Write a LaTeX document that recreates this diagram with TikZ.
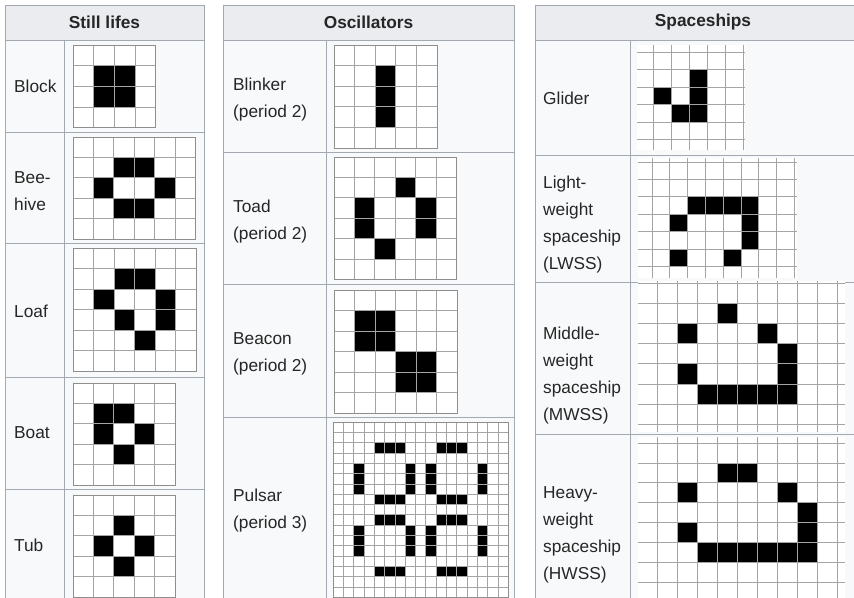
\documentclass[tikz,border=0pt]{standalone}
\usepackage{fontspec}
\setmainfont{Liberation Sans}
\definecolor{hdrc}{HTML}{EAECF0}
\definecolor{bodyc}{HTML}{F8F9FA}
\definecolor{bordc}{HTML}{A2A9B1}
\definecolor{gridc}{HTML}{A4A4A4}
\definecolor{gridb}{HTML}{8E8E8E}
\def\glw{0.8pt}
\newcommand\lifegrid[6]{%
 \begin{scope}[shift={(#1,#2)}]
  \fill[white] (0,0) rectangle ({#3*#5},{#4*#5});
  \foreach \c/\r in {#6} {\fill[black] ({\c*#5},{\r*#5}) rectangle ++(#5,#5);}
  \foreach \i in {0,...,#3} {\draw[gridln] ({\i*#5},0) -- ({\i*#5},{#4*#5});}
  \foreach \j in {0,...,#4} {\draw[gridln] (0,{\j*#5}) -- ({#3*#5},{\j*#5});}
  \draw[gridbd] (0,0) rectangle ({#3*#5},{#4*#5});
 \end{scope}}
\def\eL{16}\def\eR{2}\def\eT{6}\def\eB{8}
\newcommand\opengrid[7]{%
 \begin{scope}[shift={(#1,#2)}]
  \fill[white] (-\eL,-\eT) rectangle ({#3*#5+\eR},{#4*#6+\eB});
  \foreach \c/\r in {#7} {\fill[black] ({\c*#5},{\r*#6}) rectangle ++(#5,#6);}
  \foreach \i in {0,...,#3} {\draw[gridln] ({\i*#5},-\eT) -- ({\i*#5},{#4*#6+\eB});}
  \foreach \j in {0,...,#4} {\draw[gridln] (-\eL,{\j*#6}) -- ({#3*#5+\eR},{\j*#6});}
 \end{scope}}
\begin{document}
\begin{tikzpicture}[x=1pt,y=-1pt,
  tline/.style={draw=bordc,line width=1pt},
  gridln/.style={draw=gridc,line width=\glw},
  gridbd/.style={draw=gridb,line width=0.9pt},
  lbl/.style={anchor=west,align=left,inner sep=0pt,font=\fontsize{17.3}{27}\selectfont,text=black!85},
  hdr/.style={inner sep=0pt,font=\fontsize{17.3}{21}\selectfont\bfseries,text=black!85}]
\useasboundingbox (0,0) rectangle (854,597);
\clip (0,0) rectangle (854,597);
\fill[white] (0,0) rectangle (854,597);

% ---------- tables ----------
% still lifes
\fill[bodyc] (5,5) rectangle (204,620);
\fill[hdrc] (5,5) rectangle (204,40);
\draw[tline] (5,5) rectangle (204,620);
\foreach \y in {40,132,243,377,489} \draw[tline] (5,\y) -- (204,\y);
\draw[tline] (64,40) -- (64,620);
% oscillators
\fill[bodyc] (223,5) rectangle (514,620);
\fill[hdrc] (223,5) rectangle (514,40);
\draw[tline] (223,5) rectangle (514,620);
\foreach \y in {40,152,284,417} \draw[tline] (223,\y) -- (514,\y);
\draw[tline] (326,40) -- (326,620);
% spaceships
\fill[bodyc] (535,5) rectangle (871,620);
\fill[hdrc] (535,5) rectangle (871,40);
\draw[tline] (535,5) rectangle (871,620);
\foreach \y in {40,155,282,434} \draw[tline] (535,\y) -- (871,\y);
\draw[tline] (630,40) -- (630,620);

% ---------- headers ----------
\node[hdr] (hstill) at (104.5,22.5) {Still lifes};
\node[hdr] (hosc) at (368.5,22.5) {Oscillators};
\node[hdr] (hspace) at (703,22.5) {Spaceships};

% ---------- labels ----------
\node[lbl] (lblock) at (14,86) {Block};
\node[lbl] (lbee) at (14,191) {Bee-\\hive};
\node[lbl] (lloaf) at (14,311) {Loaf};
\node[lbl] (lboat) at (14,433) {Boat};
\node[lbl] (ltub) at (14,545) {Tub};
\node[lbl] (lblink) at (233,99.5) {Blinker\\(period 2)};
\node[lbl] (ltoad) at (233,222) {Toad\\(period 2)};
\node[lbl] (lbeacon) at (233,354) {Beacon\\(period 2)};
\node[lbl] (lpulsar) at (233,511) {Pulsar\\(period 3)};
\node[lbl] (lglider) at (543,98) {Glider};
\node[lbl] (llwss) at (543,225) {Light-\\weight\\spaceship\\(LWSS)};
\node[lbl] (lmwss) at (543,376) {Middle-\\weight\\spaceship\\(MWSS)};
\node[lbl] (lhwss) at (543,535) {Heavy-\\weight\\spaceship\\(HWSS)};

% ---------- still lifes ----------
\lifegrid{73}{45}{4}{4}{20.7}{1/1,2/1,1/2,2/2}
\lifegrid{73}{137}{6}{5}{20.4}{2/1,3/1,1/2,4/2,2/3,3/3}
\lifegrid{73}{248}{6}{6}{20.5}{2/1,3/1,1/2,4/2,2/3,4/3,3/4}
\lifegrid{73}{383}{5}{5}{20.4}{1/1,2/1,1/2,3/2,2/3}
\lifegrid{73}{495}{5}{5}{20.4}{2/1,1/2,3/2,2/3}

% ---------- oscillators ----------
\lifegrid{334}{45}{5}{5}{20.6}{2/1,2/2,2/3}
\lifegrid{334}{157}{6}{6}{20.4}{3/1,1/2,4/2,1/3,4/3,2/4}
\lifegrid{334}{290}{6}{6}{20.5}{1/1,2/1,1/2,2/2,3/3,4/3,3/4,4/4}
\begingroup
\def\glw{0.55pt}
\lifegrid{333}{422}{17}{17}{10.3}{4/2,5/2,6/2,10/2,11/2,12/2,
 4/7,5/7,6/7,10/7,11/7,12/7,
 4/9,5/9,6/9,10/9,11/9,12/9,
 4/14,5/14,6/14,10/14,11/14,12/14,
 2/4,2/5,2/6,2/10,2/11,2/12,
 7/4,7/5,7/6,7/10,7/11,7/12,
 9/4,9/5,9/6,9/10,9/11,9/12,
 14/4,14/5,14/6,14/10,14/11,14/12}
\endgroup

% ---------- spaceships ----------
\def\eL{16}\def\eR{2}\def\eT{7}\def\eB{10}
\opengrid{653}{52}{5}{5}{18}{17.5}{0/2,1/3,2/1,2/2,2/3}
\def\eL{14}\def\eR{3}\def\eT{4}\def\eB{12}
\opengrid{652}{162}{8}{6}{17.8}{17.4}{2/2,3/2,4/2,5/2,1/3,5/3,5/4,1/5,4/5}
\def\eL{19}\def\eR{8}\def\eT{2}\def\eB{8}
\opengrid{657}{283}{9}{7}{20}{20.2}{3/1,1/2,5/2,6/3,1/4,6/4,2/5,3/5,4/5,5/5,6/5}
\def\eL{19}\def\eR{8}\def\eT{6}\def\eB{20}
\opengrid{657}{443}{9}{8}{20}{19.9}{3/1,4/1,1/2,6/2,7/3,1/4,7/4,2/5,3/5,4/5,5/5,6/5,7/5}
\end{tikzpicture}
\end{document}
